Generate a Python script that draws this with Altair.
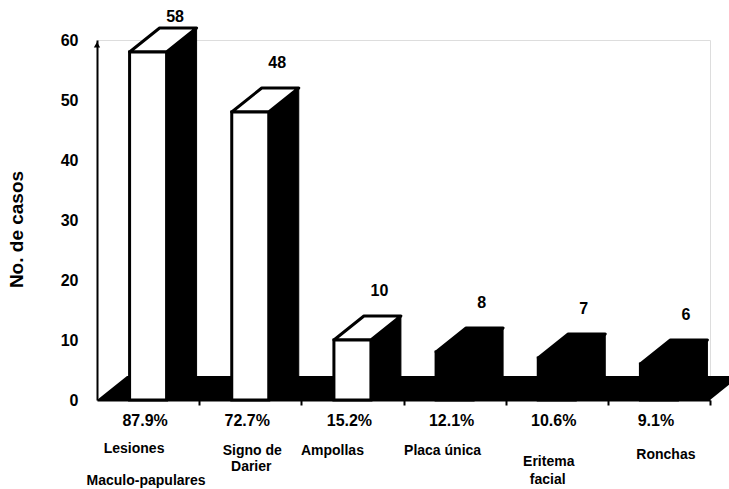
import altair as alt
import pandas as pd
import numpy as np

# ---------------- data ----------------
categories = ["Lesiones Maculo-papulares", "Signo de Darier", "Ampollas",
              "Placa única", "Eritema facial", "Ronchas"]
cases = [58, 48, 10, 8, 7, 6]
percents = ["87.9%", "72.7%", "15.2%", "12.1%", "10.6%", "9.1%"]
label_lines = [["Lesiones", "Maculo-papulares"], ["Signo de", "Darier"], ["Ampollas"],
               ["Placa única"], ["Eritema", "facial"], ["Ronchas"]]
y_ticks = [0, 10, 20, 30, 40, 50, 60]

# ---------------- layout / style (not data) ----------------
face_fill = ["white", "white", "white", "black", "black", "black"]
label_line_y = [[449, 481], [451, 467], [451], [451], [462, 480], [455]]   # page px
label_line_nudge = [[-14, -2], [2, 1], [-20], [-12], [-8, -9], [7]]          # px
PAD_L, PAD_T, PAD_R, PAD_B = 97, 40, 19, 89
PLOT_W, PLOT_H = 613, 360
YMAX = 60
FONT = "Liberation Sans"

n = len(categories)
px_x = PLOT_W / n
px_y = PLOT_H / YMAX
DX = 30 / px_x           # depth offset, x units
DY = 24 / px_y           # depth offset, y units
HALF = 18.5 / px_x       # half width of front face

xs = alt.Scale(domain=[0, n], nice=False, zero=False)
ys = alt.Scale(domain=[0, YMAX], nice=False, zero=False)

x_axis = alt.Axis(values=[1, 2, 3, 4, 5, 6], labels=False, title=None, grid=False,
                  tickSize=5, tickWidth=2, tickColor="black",
                  domainColor="black", domainWidth=2, zindex=1)
y_axis = alt.Axis(values=y_ticks, title="No. de casos", ticks=False, grid=False,
                  labelFont=FONT, labelFontSize=16, labelFontWeight="bold",
                  labelColor="black", labelPadding=19,
                  domainColor="black", domainWidth=2,
                  titleFont=FONT, titleFontSize=19, titleFontWeight="bold",
                  titleColor="black", titleAngle=270, titleX=-81, titleY=189,
                  titleAlign="center", titleBaseline="middle", zindex=1)

idx = np.arange(n)
center = idx + 0.5
vals = np.array(cases, float)
front = pd.DataFrame({"cat": categories, "xl": center - HALF, "xr": center + HALF,
                      "v": vals, "zero": 0.0})

side = pd.concat([
    pd.DataFrame({"cat": categories, "x": center + HALF, "lo": 0.0, "hi": vals}),
    pd.DataFrame({"cat": categories, "x": center + HALF + DX, "lo": DY, "hi": vals + DY}),
])
top = pd.concat([
    pd.DataFrame({"cat": categories, "y": vals, "xa": center - HALF, "xb": center + HALF}),
    pd.DataFrame({"cat": categories, "y": vals + DY, "xa": center - HALF + DX,
                  "xb": center + HALF + DX}),
])
floor = pd.DataFrame({"y": [0.0, DY], "xa": [0.0, DX], "xb": [float(n), n + DX]})

vlab = pd.DataFrame({"x": center + 27 / px_x,
                     "y": np.minimum(vals + DY + 25 / px_y, (PLOT_H + PAD_T - 17) / px_y),
                     "t": [str(c) for c in cases]})
plab = pd.DataFrame({"x": center - 3 / px_x, "t": percents})

rows = []
for i, lines in enumerate(label_lines):
    for j, line in enumerate(lines):
        rows.append({"x": i + 0.5 + label_line_nudge[i][j] / px_x,
                     "y": label_line_y[i][j] - PAD_T, "t": line})
clab = pd.DataFrame(rows)

fill_enc = alt.Fill("cat:N", scale=alt.Scale(domain=categories, range=face_fill), legend=None)


def X(f):
    return alt.X(f, scale=xs, axis=x_axis)


def Y(f):
    return alt.Y(f, scale=ys, axis=y_axis)


floor_l = alt.Chart(floor).mark_area(orient="horizontal", color="black").encode(
    y=Y("y:Q"), x=X("xa:Q"), x2="xb:Q")

side_l = alt.Chart(side).mark_area(orient="vertical", color="black", stroke="black",
                                   strokeWidth=1).encode(
    x=X("x:Q"), y=Y("lo:Q"), y2="hi:Q", detail="cat:N")

top_l = alt.Chart(top).mark_area(orient="horizontal", stroke="black", strokeWidth=3,
                                 strokeJoin="round").encode(
    y=Y("y:Q"), x=X("xa:Q"), x2="xb:Q", fill=fill_enc, detail="cat:N")

front_l = alt.Chart(front).mark_rect(stroke="black", strokeWidth=3).encode(
    x=X("xl:Q"), x2="xr:Q", y=Y("v:Q"), y2="zero:Q", fill=fill_enc)

arrow_l = alt.Chart(pd.DataFrame({"a": [0]})).mark_point(
    shape="triangle-up", filled=True, color="black", size=40, opacity=1).encode(
    x=alt.value(0), y=alt.datum(59.2, scale=ys, axis=y_axis))

vlab_l = alt.Chart(vlab).mark_text(font=FONT, fontSize=16, fontWeight="bold", color="black",
                                   baseline="middle").encode(
    x=X("x:Q"), y=Y("y:Q"), text="t:N")

plab_l = alt.Chart(plab).mark_text(font=FONT, fontSize=16, fontWeight="bold", color="black",
                                   baseline="middle").encode(
    x=X("x:Q"), y=alt.value(421 - PAD_T), text="t:N")

clab_l = alt.Chart(clab).mark_text(font=FONT, fontSize=14, fontWeight="bold", color="black",
                                   baseline="middle").encode(
    x=X("x:Q"), y=alt.Y("y:Q", scale=None, axis=None), text="t:N")

chart = alt.layer(floor_l, side_l, top_l, front_l, arrow_l, vlab_l, plab_l, clab_l).properties(
    width=PLOT_W, height=PLOT_H,
    autosize=alt.AutoSizeParams(type="none"),
    padding={"left": PAD_L, "top": PAD_T, "right": PAD_R, "bottom": PAD_B},
    background="white",
).configure_view(stroke=None).configure(font=FONT)

chart.save("out.html", embed_options={"renderer": "svg", "actions": False})
